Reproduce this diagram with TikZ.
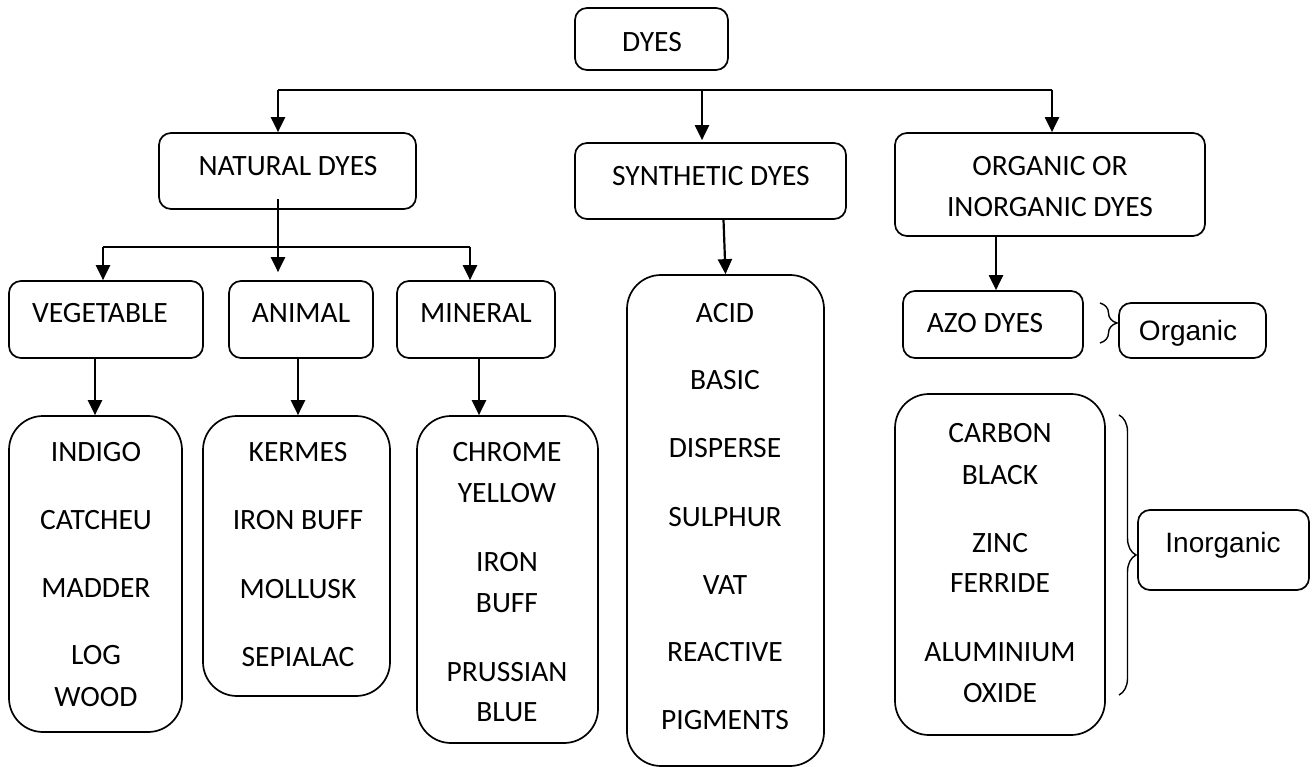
\documentclass[tikz,border=0pt]{standalone}
\usepackage{fontspec}
\setmainfont{Carlito}
\newfontfamily\arialfont{Liberation Sans}
\usetikzlibrary{arrows.meta,decorations.pathreplacing}

\tikzset{
  box/.style={draw, line width=1.7pt, rounded corners=12pt, inner sep=0pt},
  listbox/.style={box, rounded corners=34pt},
  lbl/.style={inner sep=0pt, text height=19pt, text depth=0pt, font=\fontsize{29.5pt}{35pt}\selectfont},
  albl/.style={inner sep=0pt, text height=20pt, text depth=0pt, font=\arialfont\fontsize{28pt}{33pt}\selectfont},
  arr/.style={line width=2.2pt, -{Triangle[length=15pt,width=14pt]}},
  brc/.style={line width=1.4pt, decorate, decoration={brace, amplitude=17pt}}
}

\begin{document}
\begin{tikzpicture}[x=1pt,y=-1pt]
\useasboundingbox (0,0) rectangle (1316,767);

% boxes
\node[box, minimum width=153pt, minimum height=62pt] (dyes) at (651.5,39) {};
\node[box, minimum width=257pt, minimum height=76pt] (nat) at (287.5,171) {};
\node[box, minimum width=271pt, minimum height=76pt] (syn) at (710.5,181) {};
\node[box, minimum width=310pt, minimum height=103pt] (org) at (1050,184.5) {};
\node[box, minimum width=194pt, minimum height=77pt] (veg) at (106,319.5) {};
\node[box, minimum width=144pt, minimum height=77pt] (ani) at (301,319.5) {};
\node[box, minimum width=158pt, minimum height=77pt] (min) at (476,319.5) {};
\node[box, minimum width=180pt, minimum height=67pt] (azo) at (993,324.5) {};
\node[box, minimum width=147pt, minimum height=55pt] (orgc) at (1192.5,330.5) {};
\node[box, minimum width=171pt, minimum height=80pt] (inorgc) at (1223.5,550) {};

\node[listbox, minimum width=173pt, minimum height=316pt] (vegl) at (95.5,574) {};
\node[listbox, minimum width=187pt, minimum height=280pt] (anil) at (296.5,556) {};
\node[listbox, minimum width=181pt, minimum height=327pt] (minl) at (507.5,579.5) {};
\node[listbox, minimum width=197pt, minimum height=491pt] (synl) at (725.5,520.5) {};
\node[listbox, minimum width=210pt, minimum height=341pt] (inol) at (1000,564.5) {};

% labels
\node[lbl] (dyes-t) at (652,42) {DYES};
\node[lbl] (nat-t) at (288,166) {NATURAL DYES};
\node[lbl] (syn-t) at (711,176) {SYNTHETIC DYES};
\node[lbl] (org-t1) at (1050,166) {ORGANIC OR};
\node[lbl] (org-t2) at (1050,207) {INORGANIC DYES};
\node[lbl] (veg-t) at (100,313) {VEGETABLE};
\node[lbl] (ani-t) at (301,313) {ANIMAL};
\node[lbl] (min-t) at (476,313) {MINERAL};
\node[lbl] (azo-t) at (985,323) {AZO DYES};
\node[albl] (orgc-t) at (1188,330) {Organic};
\node[albl] (inorgc-t) at (1223,542) {Inorganic};

\foreach \t/\y [count=\i] in {INDIGO/452, CATCHEU/520, MADDER/588, LOG/655, WOOD/697}
  \node[lbl] (vegl-\i) at (96,\y) {\t};
\foreach \t/\y [count=\i] in {KERMES/452, IRON BUFF/520, MOLLUSK/589, SEPIALAC/657}
  \node[lbl] (anil-\i) at (298,\y) {\t};
\foreach \t/\y [count=\i] in {CHROME/452, YELLOW/493, IRON/562, BUFF/603, PRUSSIAN/672, BLUE/712}
  \node[lbl] (minl-\i) at (507,\y) {\t};
\foreach \t/\y [count=\i] in {ACID/313, BASIC/380, DISPERSE/448, SULPHUR/517, VAT/585, REACTIVE/652, PIGMENTS/720}
  \node[lbl] (synl-\i) at (725,\y) {\t};
\foreach \t/\y [count=\i] in {CARBON/433, BLACK/475, ZINC/543, FERRIDE/583, ALUMINIUM/652, OXIDE/693}
  \node[lbl] (inol-\i) at (1000,\y) {\t};

% top level
\coordinate (bus) at (278,90);
\coordinate (bus-m) at (702,90);
\coordinate (bus-r) at (1052,90);
\draw[line width=2.2pt] (bus) -- (bus-r);
\draw[arr] (bus) -- (bus |- nat.north);
\draw[arr, shorten >=2pt] (bus-m) -- (bus-m |- syn.north);
\draw[arr] (bus-r) -- (bus-r |- org.north);

% natural dyes
\coordinate (nat-s) at (278,199);
\coordinate (sub) at (278,247);
\coordinate (sub-l) at (103,247);
\coordinate (sub-r) at (470,247);
\draw[line width=1.5pt] (nat-s) -- (sub);
\draw[line width=2.2pt] (sub-l) -- (sub-r);
\draw[arr] (sub-l) -- (sub-l |- veg.north);
\draw[arr, shorten >=8pt] (sub) -- (sub |- ani.north);
\draw[arr] (sub-r) -- (sub-r |- min.north);

\draw[arr] ([xshift=-11pt]veg.south) -- ([xshift=-11pt]veg.south |- vegl.north);
\draw[arr] ([xshift=-3pt]ani.south) -- ([xshift=-3pt]ani.south |- anil.north);
\draw[arr] ([xshift=3pt]min.south) -- ([xshift=3pt]min.south |- minl.north);

% synthetic and organic
\draw[arr] ([xshift=13pt]syn.south) -- (synl.north);
\draw[arr] ([xshift=-54pt]org.south) -- ([xshift=-54pt]org.south |- azo.north);

% braces
\coordinate (ob-t) at (1100,303);
\coordinate (ob-b) at (1100,343);
\draw[brc] (ob-t) -- (ob-b);
\coordinate (ib-t) at (1119,415);
\coordinate (ib-b) at (1119,695);
\draw[brc] (ib-t) -- (ib-b);
\end{tikzpicture}
\end{document}
